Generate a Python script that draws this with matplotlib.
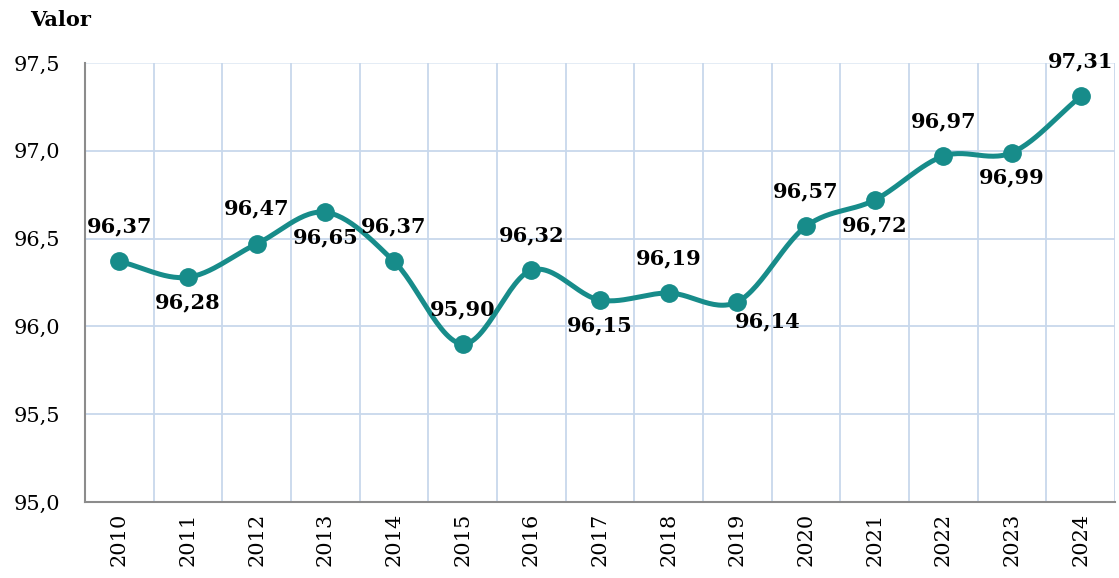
import numpy as np
import matplotlib.pyplot as plt

# data
years = ["2010", "2011", "2012", "2013", "2014", "2015", "2016", "2017",
         "2018", "2019", "2020", "2021", "2022", "2023", "2024"]
values = [96.37, 96.28, 96.47, 96.65, 96.37, 95.90, 96.32, 96.15,
          96.19, 96.14, 96.57, 96.72, 96.97, 96.99, 97.31]
# where each label sits relative to its point
label_pos = ["up", "down", "up", "down", "up", "up", "up", "down",
             "up", "right", "up", "down", "up", "down", "up"]

teal = "#178c8a"
grid_col = "#c8d8ec"
serif = ["DejaVu Serif"]


def smooth(x, y, n=30):
    """Catmull-Rom curve through the points, like a smoothed line in a spreadsheet."""
    px = np.concatenate([[2 * x[0] - x[1]], x, [2 * x[-1] - x[-2]]])
    py = np.concatenate([[2 * y[0] - y[1]], y, [2 * y[-1] - y[-2]]])
    xs, ys = [], []
    t = np.linspace(0, 1, n)
    for i in range(1, len(px) - 2):
        for p, out in ((px, xs), (py, ys)):
            p0, p1, p2, p3 = p[i - 1], p[i], p[i + 1], p[i + 2]
            out.extend(0.5 * ((2 * p1) + (-p0 + p2) * t
                              + (2 * p0 - 5 * p1 + 4 * p2 - p3) * t ** 2
                              + (-p0 + 3 * p1 - 3 * p2 + p3) * t ** 3))
    return np.array(xs), np.array(ys)


fig = plt.figure(figsize=(11.19, 5.78), dpi=100)
ax = fig.add_axes([0.076, 0.1315, 0.9205, 0.7595])

x = np.arange(len(years))
y = np.array(values)
sx, sy = smooth(x.astype(float), y)
ax.plot(sx, sy, color=teal, lw=3.6, solid_capstyle="round", zorder=3)
ax.plot(x, y, "o", color=teal, ms=12.5, zorder=4)

offsets = {"up": (0, 18, "center", "bottom"),
           "down": (0, -11, "center", "top"),
           "right": (22, -7, "center", "top")}
for xi, v, pos in zip(x, values, label_pos):
    dx, dy, ha, va = offsets[pos]
    ax.annotate(f"{v:.2f}".replace(".", ","), (xi, v), xytext=(dx, dy),
                textcoords="offset points", ha=ha, va=va,
                fontsize=15, fontweight="bold", family=serif, zorder=5)

ax.set_xlim(-0.5, len(years) - 0.5)
ax.set_ylim(95.0, 97.5)
ax.set_yticks(np.arange(95.0, 97.51, 0.5))
ax.set_yticklabels([f"{t:.1f}".replace(".", ",") for t in np.arange(95.0, 97.51, 0.5)],
                   family=serif, fontsize=15)
ax.set_xticks(x)
ax.set_xticklabels(years, rotation=90, family=serif, fontsize=15)
ax.tick_params(axis="both", length=0)
ax.tick_params(axis="y", pad=18)
ax.tick_params(axis="x", pad=8)

# grid: horizontal at ticks, vertical between categories
for gy in np.arange(95.5, 97.51, 0.5):
    ax.axhline(gy, color=grid_col if gy < 97.4 else "#e2eaf5", lw=1.3, zorder=1)
for gx in np.arange(0.5, len(years), 1.0):
    ax.axvline(gx, color=grid_col, lw=1.3, zorder=1)

for side in ("top", "right"):
    ax.spines[side].set_visible(False)
for side in ("left", "bottom"):
    ax.spines[side].set_color("#8c8c8c")
    ax.spines[side].set_linewidth(1.5)

fig.text(0.027, 0.965, "Valor", family=serif, fontsize=15, fontweight="bold",
         ha="left", va="center")

fig.savefig("out.png", dpi=100)
